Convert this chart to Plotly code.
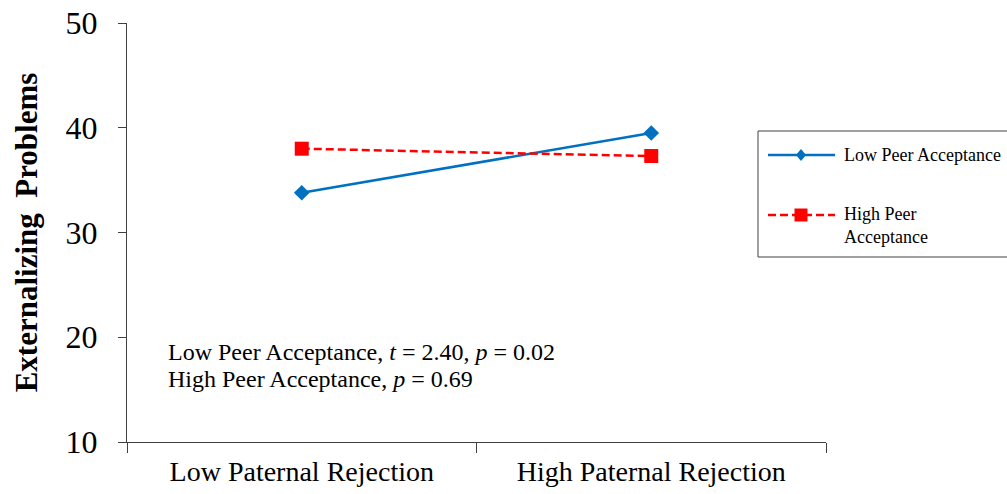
import plotly.graph_objects as go

# Data
categories = ["Low Paternal Rejection", "High Paternal Rejection"]
low_peer = [33.8, 39.5]
high_peer = [38.0, 37.3]
series_names = ["Low Peer Acceptance", "High Peer Acceptance"]
legend_labels = ["Low Peer Acceptance", "High Peer<br>Acceptance"]
y_ticks = [10, 20, 30, 40, 50]
stat_lines = [
    "Low Peer Acceptance, <i>t</i> = 2.40, <i>p</i> = 0.02",
    "High Peer Acceptance, <i>p</i> = 0.69",
]

BLUE = "#0070C0"
RED = "#FF0000"
FONT = "Liberation Serif, Times New Roman, serif"

W, H = 1007, 494
L, R, T, B = 127, 181, 23, 52
PW, PH = W - L - R, H - T - B


def px(x):
    return (x - L) / PW


def py(y):
    return (H - B - y) / PH


fig = go.Figure()
fig.add_trace(go.Scatter(
    x=categories, y=low_peer, name=series_names[0], mode="lines+markers",
    line=dict(color=BLUE, width=2.5),
    marker=dict(symbol="diamond", size=12, color=BLUE),
    showlegend=False,
))
fig.add_trace(go.Scatter(
    x=categories, y=high_peer, name=series_names[1], mode="lines+markers",
    line=dict(color=RED, width=2.5, dash="8px,4px"),
    marker=dict(symbol="square", size=14, color=RED),
    showlegend=False,
))

shapes = []
annotations = []

# Legend box with keys
shapes.append(dict(type="rect", xref="paper", yref="paper",
                   x0=px(758), x1=px(1012), y0=py(257), y1=py(131),
                   line=dict(color="#404040", width=1), fillcolor="white", layer="above"))
# key 1: solid blue with diamond
shapes.append(dict(type="line", xref="paper", yref="paper",
                   x0=px(768), x1=px(835), y0=py(155), y1=py(155),
                   line=dict(color=BLUE, width=2.5)))
shapes.append(dict(type="path", xref="paper", yref="paper",
                   path=f"M {px(801)},{py(149)} L {px(806)},{py(155)} L {px(801)},{py(161)} L {px(796)},{py(155)} Z",
                   fillcolor=BLUE, line=dict(color=BLUE, width=0)))
# key 2: dashed red with square
shapes.append(dict(type="line", xref="paper", yref="paper",
                   x0=px(768), x1=px(835), y0=py(215), y1=py(215),
                   line=dict(color=RED, width=2.5, dash="8px,4px")))
shapes.append(dict(type="rect", xref="paper", yref="paper",
                   x0=px(794.5), x1=px(807.5), y0=py(221.5), y1=py(208.5),
                   fillcolor=RED, line=dict(color=RED, width=0)))

annotations.append(dict(xref="paper", yref="paper", x=px(842), y=py(155),
                        text=legend_labels[0], showarrow=False,
                        xanchor="left", yanchor="middle",
                        font=dict(family=FONT, size=18, color="black")))
annotations.append(dict(xref="paper", yref="paper", x=px(842), y=py(226),
                        text=legend_labels[1], showarrow=False,
                        xanchor="left", yanchor="middle", align="left",
                        font=dict(family=FONT, size=18, color="black")))

# Test results
for i, line in enumerate(stat_lines):
    annotations.append(dict(xref="paper", yref="paper", x=px(166), y=py(352 + 27 * i),
                            text=line, showarrow=False, xanchor="left", yanchor="middle",
                            font=dict(family=FONT, size=24, color="black")))

fig.update_layout(
    width=W, height=H,
    margin=dict(l=L, r=R, t=T, b=B, autoexpand=False),
    paper_bgcolor="white", plot_bgcolor="white",
    font=dict(family=FONT, color="black"),
    shapes=shapes, annotations=annotations,
    showlegend=False,
)
fig.update_xaxes(
    range=[-0.5, 1.5], showline=True, linecolor="#404040", linewidth=1,
    showgrid=False, zeroline=False, ticks="outside", tickson="boundaries",
    ticklen=10, tickcolor="#404040", ticklabelstandoff=4,
    tickfont=dict(family=FONT, size=28, color="black"),
)
fig.update_yaxes(
    range=[10, 50], tickvals=y_ticks, showline=True, linecolor="#404040", linewidth=1,
    showgrid=False, zeroline=False, ticks="outside", ticklen=8, tickcolor="#404040",
    ticklabelstandoff=14,
    tickfont=dict(family=FONT, size=32, color="black"),
    title=dict(text="<b>Externalizing  Problems</b>", standoff=18,
               font=dict(family=FONT, size=31, color="black")),
)

fig.write_html("out.html")
